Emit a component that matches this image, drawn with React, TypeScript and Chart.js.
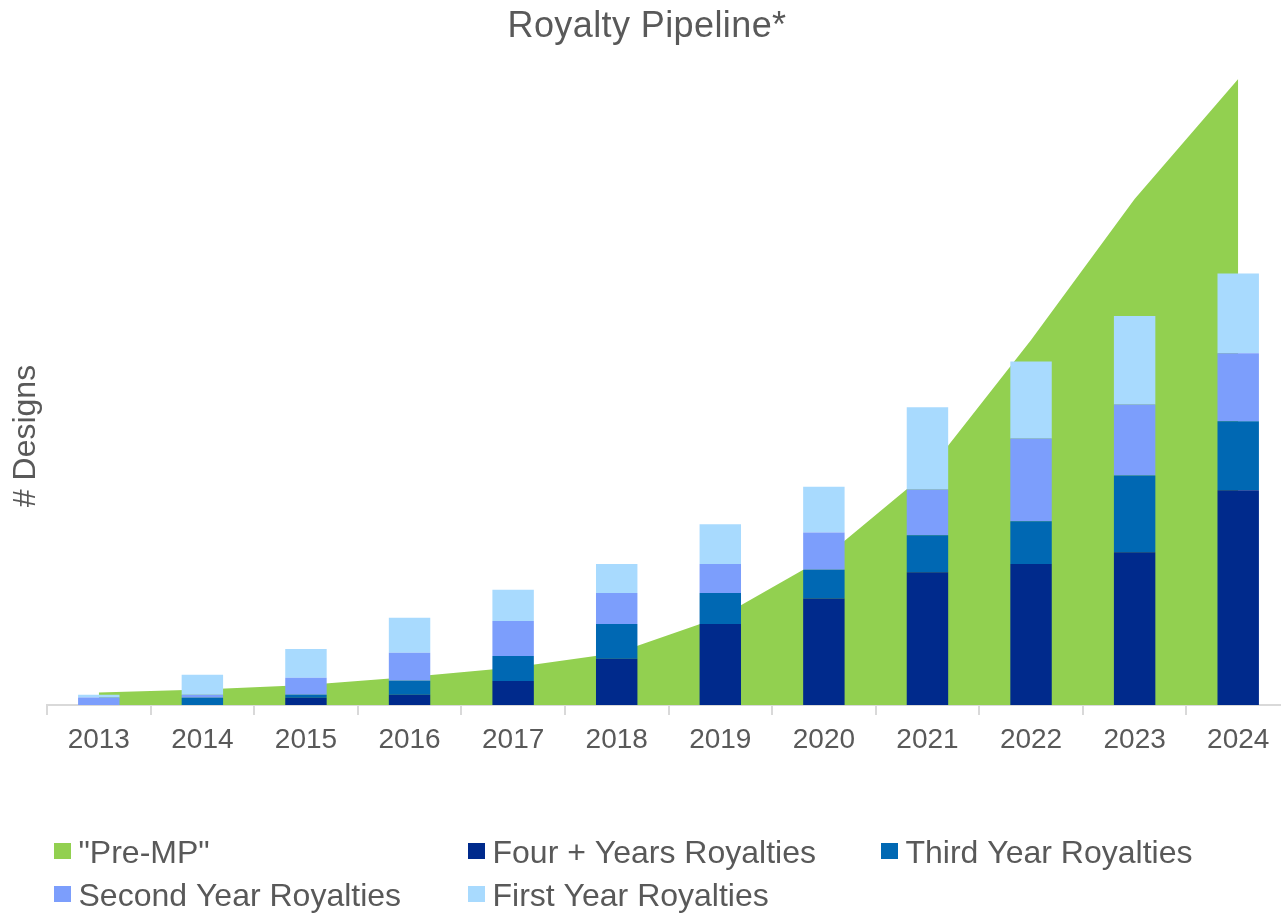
import React, { useEffect, useRef } from "react";
import { Chart, registerables } from "chart.js";

Chart.register(...registerables);

// Categories and series (values in design units)
const years = ["2013", "2014", "2015", "2016", "2017", "2018", "2019", "2020", "2021", "2022", "2023", "2024"];
const preMP = [12.5, 15.5, 20, 28, 37.5, 52, 88, 147, 233, 365, 506, 626];
const fourPlusYears = [0, 0, 7.3, 10.3, 24, 46.3, 81, 106.5, 132.7, 141, 152.7, 214.7];
const thirdYear = [0, 7.3, 3, 14, 25, 34.7, 31, 28.7, 37, 42.7, 76.7, 69];
const secondYear = [7.5, 3, 17, 28, 35, 31, 29, 37.3, 45.7, 82.7, 71, 68];
const firstYear = [2.7, 20, 28.7, 35, 31.3, 29, 39.7, 45.7, 82.3, 77, 88.7, 79.7];

const seriesNames = ['"Pre-MP"', "Four + Years Royalties", "Third Year Royalties", "Second Year Royalties", "First Year Royalties"];
const seriesColors = ["#92D050", "#002A8C", "#0068B3", "#7C9EFC", "#A8DAFE"];

const TITLE = "Royalty Pipeline*";
const Y_TITLE = "# Designs";
const TEXT_COLOR = "#595959";
const FONT = '"Liberation Sans", Arial, sans-serif';

// Title, axis title and a column-aligned legend drawn on the canvas
const textPlugin = {
  id: "pipelineText",
  afterDraw(chart: any) {
    const ctx = chart.ctx as CanvasRenderingContext2D;
    ctx.save();
    ctx.fillStyle = TEXT_COLOR;

    // chart title
    ctx.font = `36px ${FONT}`;
    (ctx as any).letterSpacing = "0.4px";
    ctx.textAlign = "center";
    ctx.textBaseline = "alphabetic";
    ctx.fillText(TITLE, 647, 37);
    (ctx as any).letterSpacing = "0px";

    // y-axis title
    ctx.save();
    ctx.translate(35, 436);
    ctx.rotate(-Math.PI / 2);
    ctx.font = `32px ${FONT}`;
    ctx.textAlign = "center";
    ctx.fillText(Y_TITLE, 0, 0);
    ctx.restore();

    // legend: three columns, two rows
    const colX = [54, 468, 881];
    const rowTop = [843, 886];
    ctx.font = `32px ${FONT}`;
    ctx.textAlign = "left";
    chart.data.datasets.forEach((ds: any, i: number) => {
      const col = i % 3;
      const row = Math.floor(i / 3);
      const x = colX[col];
      const y = rowTop[row];
      ctx.fillStyle = ds.backgroundColor;
      ctx.fillRect(x, y, 17, 16);
      ctx.fillStyle = TEXT_COLOR;
      ctx.fillText(ds.label, x + 24.5, y + 19.5);
    });
    ctx.restore();
  },
};

export default function App() {
  const canvasRef = useRef<HTMLCanvasElement | null>(null);

  useEffect(() => {
    if (!canvasRef.current) return;
    const barSeries = [fourPlusYears, thirdYear, secondYear, firstYear];
    const chart = new Chart(canvasRef.current, {
      type: "bar",
      data: {
        labels: years,
        datasets: [
          {
            type: "line",
            label: seriesNames[0],
            data: preMP,
            fill: "origin",
            backgroundColor: seriesColors[0],
            borderColor: seriesColors[0],
            borderWidth: 0,
            pointRadius: 0,
            tension: 0,
            stack: "pre",
            order: 1,
          } as any,
          ...barSeries.map((values, i) => ({
            type: "bar",
            label: seriesNames[i + 1],
            data: values,
            backgroundColor: seriesColors[i + 1],
            borderWidth: 0,
            stack: "royalty",
            order: 0,
            categoryPercentage: 1,
            barPercentage: 0.4,
          })),
        ] as any,
      },
      options: {
        responsive: false,
        animation: false,
        devicePixelRatio: 1,
        layout: { padding: { left: 47, right: 0, top: 60, bottom: 129 } },
        plugins: {
          legend: { display: false },
          title: { display: false },
          tooltip: { enabled: false },
        },
        scales: {
          x: {
            offset: true,
            grid: {
              offset: true,
              drawOnChartArea: false,
              drawTicks: true,
              tickLength: 10,
              color: "#D9D9D9",
              lineWidth: 2,
            },
            border: { display: true, color: "#D9D9D9", width: 2 },
            ticks: {
              color: TEXT_COLOR,
              font: { family: FONT, size: 28 },
              padding: 8,
              maxRotation: 0,
              autoSkip: false,
            },
            afterFit: (scale: any) => {
              scale.height = 80;
            },
          },
          y: {
            display: false,
            stacked: true,
            min: 0,
            max: 645,
          },
        },
      },
      plugins: [textPlugin],
    });
    return () => chart.destroy();
  }, []);

  return (
    <div
      style={{
        position: "absolute",
        left: 0,
        top: 0,
        width: 1281,
        height: 914,
        overflow: "hidden",
        background: "#FFFFFF",
      }}
    >
      <canvas ref={canvasRef} width={1290} height={914} style={{ display: "block", width: 1290, height: 914 }} />
    </div>
  );
}
